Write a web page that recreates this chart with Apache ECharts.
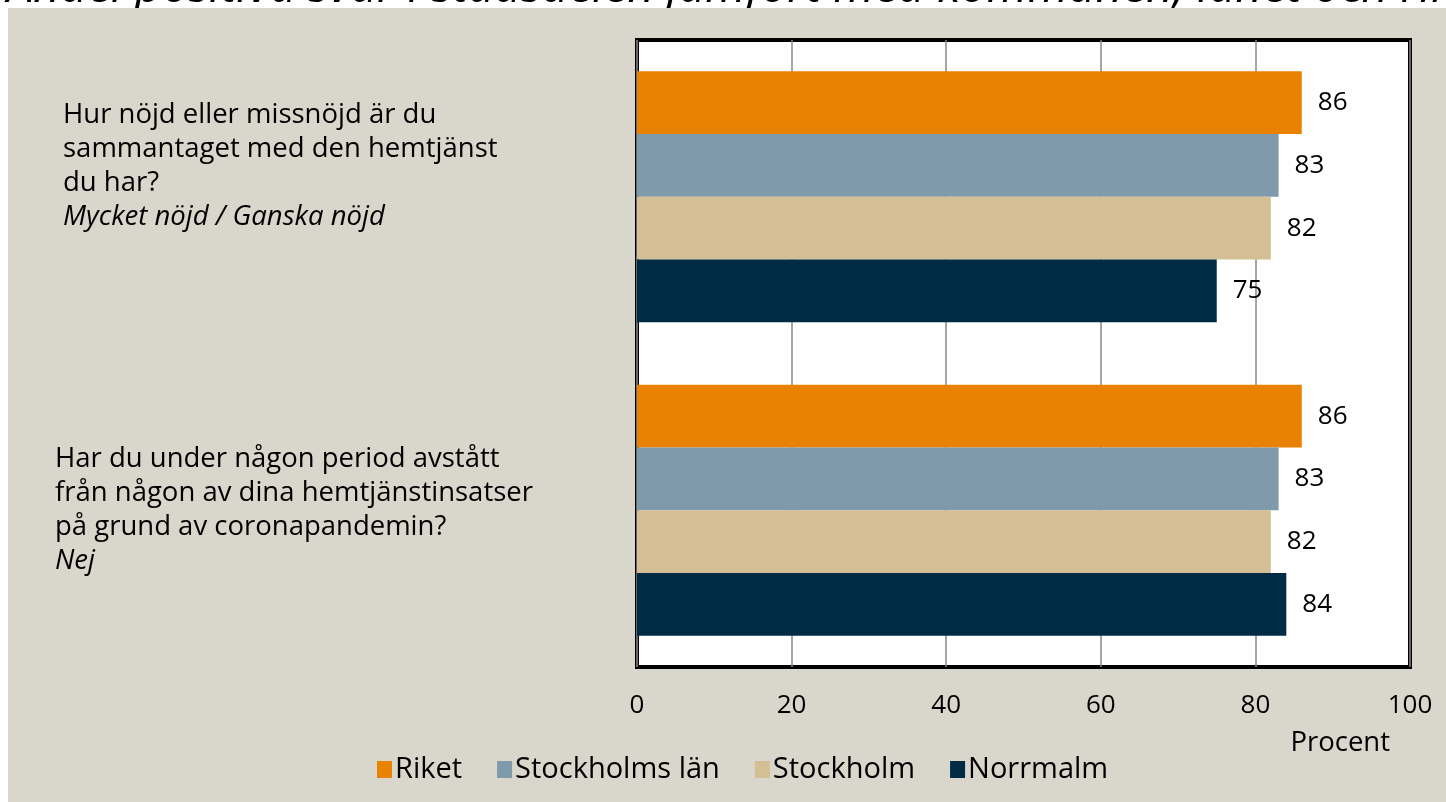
<!DOCTYPE html>
<html>
<head>
<meta charset="utf-8">
<script src="https://cdn.jsdelivr.net/npm/echarts@6/dist/echarts.min.js"></script>
<style>
  html, body { margin: 0; padding: 0; background: #fff; }
  #chart { width: 1446px; height: 802px; }
</style>
</head>
<body>
<div id="chart"></div>
<script>
// frågorna (kategorier), en rad per element
const questions = [
  ['Hur nöjd eller missnöjd är du', 'sammantaget med den hemtjänst', 'du har?'],
  ['Har du under någon period avstått', 'från någon av dina hemtjänstinsatser', 'på grund av coronapandemin?']
]
const answers = ['Mycket nöjd / Ganska nöjd', 'Nej']
const seriesNames = ['Riket', 'Stockholms län', 'Stockholm', 'Norrmalm']
const riket = [86, 86]
const stockholmsLan = [83, 83]
const stockholm = [82, 82]
const norrmalm = [75, 84]
const xTicks = [0, 20, 40, 60, 80, 100]
const titleText = 'Andel positiva svar i stadsdelen jämfört med kommunen, länet och riket'

const colors = ['#E88200', '#7F9AAB', '#D4BE94', '#002B45']
const font = 'Open Sans'

const chart = echarts.init(document.getElementById('chart'))

const barSeries = [riket, stockholmsLan, stockholm, norrmalm].map((data, i) => ({
  name: seriesNames[i],
  type: 'bar',
  z: 4,
  data: data,
  barGap: '0%',
  barCategoryGap: '20%',
  itemStyle: { color: colors[i] },
  label: {
    show: true,
    position: 'right',
    distance: 16,
    color: '#000',
    fontFamily: font,
    fontSize: 26
  }
}))

const option = {
  animation: false,
  color: colors,
  title: {
    text: titleText,
    left: 2,
    top: -40,
    z: 0,
    textStyle: {
      fontFamily: font,
      fontStyle: 'italic',
      fontWeight: 'normal',
      fontSize: 47,
      color: '#000'
    }
  },
  // beige bakgrund, täcker titelns nederdel
  graphic: [{
    type: 'rect',
    z: 1,
    silent: true,
    shape: { x: 8, y: 8, width: 1438, height: 794 },
    style: { fill: '#D9D7CB' }
  }],
  legend: {
    data: seriesNames,
    left: 372,
    top: 750,
    z: 5,
    icon: 'rect',
    itemWidth: 15,
    itemHeight: 17,
    itemGap: 35,
    textStyle: { fontFamily: font, fontSize: 29, color: '#000', padding: [0, 0, 0, -2] }
  },
  grid: {
    left: 637,
    right: 36,
    top: 40,
    bottom: 135,
    z: 2,
    show: true,
    backgroundColor: '#fff',
    borderColor: '#000',
    borderWidth: 4
  },
  xAxis: {
    type: 'value',
    z: 3,
    min: xTicks[0],
    max: xTicks[xTicks.length - 1],
    interval: xTicks[1] - xTicks[0],
    name: 'Procent',
    nameLocation: 'end',
    nameGap: -20,
    nameTextStyle: {
      fontFamily: font,
      fontSize: 27.5,
      color: '#000',
      align: 'right',
      verticalAlign: 'top',
      padding: [62, 0, 0, 0]
    },
    axisLine: { show: false },
    axisTick: { show: false },
    axisLabel: { margin: 26, fontFamily: font, fontSize: 26, color: '#000' },
    splitLine: { show: true, lineStyle: { color: '#888', width: 1.5 } }
  },
  yAxis: {
    type: 'category',
    z: 3,
    inverse: true,
    data: questions.map(q => q.join(' ')),
    axisLine: { show: false },
    axisTick: { show: false },
    axisLabel: {
      margin: 582,
      align: 'left',
      formatter: (value, idx) => {
        const s = idx === 0 ? '1' : ''
        const lines = questions[idx].map(l => '{q' + s + '|' + l + '}')
        lines.push('{a' + s + '|' + answers[idx] + '}')
        if (idx === 0) lines.push('{gap| }')
        return lines.join('\n')
      },
      rich: {
        q: { fontFamily: font, fontSize: 27.5, lineHeight: 34, color: '#000' },
        a: { fontFamily: font, fontSize: 27.5, lineHeight: 34, color: '#000', fontStyle: 'italic' },
        q1: { fontFamily: font, fontSize: 27.5, lineHeight: 34, color: '#000', padding: [0, 0, 0, 8] },
        a1: { fontFamily: font, fontSize: 27.5, lineHeight: 34, color: '#000', fontStyle: 'italic', padding: [0, 0, 0, 8] },
        gap: { fontSize: 1, lineHeight: 62, height: 62 }
      }
    }
  },
  series: barSeries
}

chart.setOption(option)
</script>
</body>
</html>
